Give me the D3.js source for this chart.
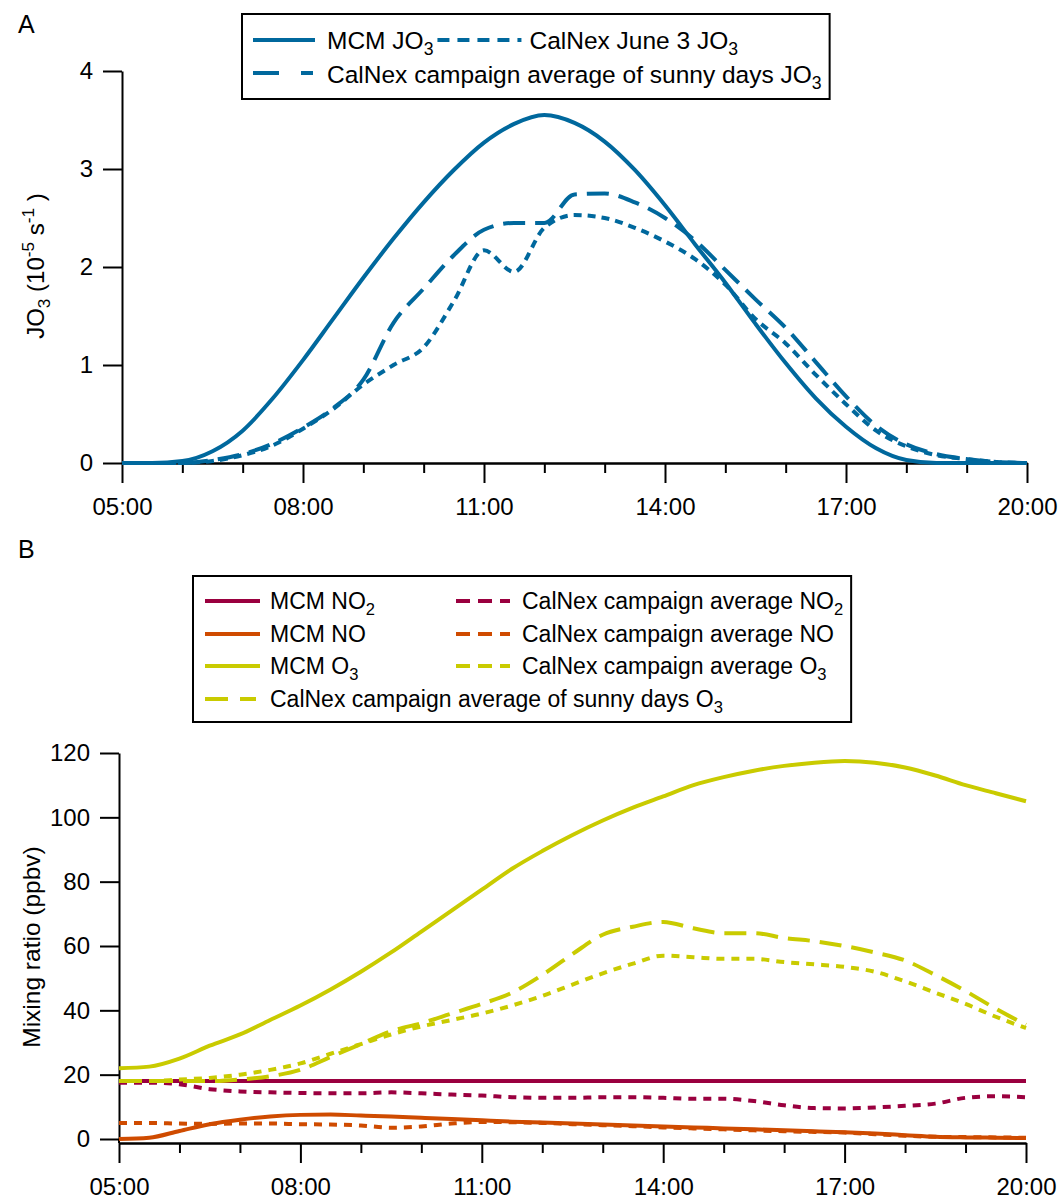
<!DOCTYPE html>
<html>
<head>
<meta charset="utf-8">
<title>JO3 and mixing ratios</title>
<style>
body { margin: 0; background: #fff; }
svg { font-family: "Liberation Sans", Arial, sans-serif; }
.axis path, .axis line { stroke: #000; stroke-width: 2px; }
.axis text { font-size: 24px; fill: #000; font-family: "Liberation Sans", Arial, sans-serif; }
.series { fill: none; stroke-width: 4px; stroke-linejoin: round; }
.legbox { fill: #fff; stroke: #000; stroke-width: 2px; }
</style>
</head>
<body>
<script src="https://d3js.org/d3.v7.min.js"></script>
<script>
var width = 1063, height = 1204;

// half-hourly time grid (hour of day)
var hours = [5, 5.5, 6, 6.5, 7, 7.5, 8, 8.5, 9, 9.5, 10, 10.5, 11, 11.5, 12, 12.5,
             13, 13.5, 14, 14.5, 15, 15.5, 16, 16.5, 17, 17.5, 18, 18.5, 19, 19.5, 20];
var majorHours = [5, 8, 11, 14, 17, 20];
var hourLabels = ["05:00", "08:00", "11:00", "14:00", "17:00", "20:00"];
var minorHours = [6, 7, 9, 10, 12, 13, 15, 16, 18, 19];

// panel A : JO3 (10^-5 s^-1)
var jo3Ticks = [0, 1, 2, 3, 4];
var mcmJO3   = [0, 0, 0.02, 0.12, 0.33, 0.66, 1.05, 1.47, 1.89, 2.29, 2.66, 2.99, 3.27, 3.46, 3.55, 3.47,
                3.28, 2.99, 2.63, 2.23, 1.84, 1.42, 1.02, 0.66, 0.37, 0.15, 0.03, 0, 0, 0, 0];
var june3JO3 = [0, 0, 0, 0.02, 0.08, 0.18, 0.35, 0.55, 0.8, 1.0, 1.18, 1.65, 2.17, 1.95, 2.4, 2.53,
                2.5, 2.4, 2.26, 2.08, 1.82, 1.47, 1.22, 0.9, 0.6, 0.33, 0.17, 0.08, 0.04, 0.01, 0];
var sunnyJO3 = [0, 0, 0, 0.03, 0.09, 0.2, 0.36, 0.56, 0.85, 1.43, 1.78, 2.12, 2.38, 2.45, 2.45, 2.74,
                2.75, 2.66, 2.5, 2.27, 1.97, 1.67, 1.38, 1.03, 0.68, 0.38, 0.19, 0.09, 0.04, 0.01, 0];

// panel B : mixing ratios (ppbv)
var ppbTicks = [0, 20, 40, 60, 80, 100, 120];
var mcmNO2 = [18, 18, 18, 18, 18, 18, 18, 18, 18, 18, 18, 18, 18, 18, 18, 18,
              18, 18, 18, 18, 18, 18, 18, 18, 18, 18, 18, 18, 18, 18, 18];
var mcmNO  = [0, 0.4, 2.5, 4.6, 6.0, 7.0, 7.5, 7.6, 7.3, 7.0, 6.6, 6.2, 5.8, 5.4, 5.1, 4.8,
              4.5, 4.2, 3.9, 3.6, 3.3, 3.0, 2.7, 2.4, 2.1, 1.7, 1.2, 0.7, 0.5, 0.4, 0.3];
var mcmO3  = [22, 22.5, 25, 29, 32.5, 37, 41.5, 46.5, 52, 58, 64.5, 71, 77.5, 84, 89.5, 94.5,
              99, 103, 106.5, 110, 112.5, 114.5, 116, 117, 117.5, 117, 115.5, 113, 110, 107.5, 105];
var calNO2 = [17.5, 17.5, 17, 15.5, 14.8, 14.5, 14.3, 14.2, 14.2, 14.5, 14.2, 13.8, 13.5, 13, 12.8, 12.8,
              13, 13, 12.8, 12.5, 12.5, 11.8, 10.5, 9.6, 9.5, 9.8, 10.3, 11, 12.8, 13.3, 13];
var calNO  = [5, 5, 4.8, 4.7, 4.8, 4.8, 4.6, 4.5, 4.2, 3.5, 3.9, 4.8, 5.3, 5.2, 5, 4.6,
              4.3, 4.0, 3.6, 3.3, 3.0, 2.7, 2.4, 2.2, 2.0, 1.5, 1.0, 0.7, 0.6, 0.5, 0.4];
var calO3  = [18, 18, 18.5, 19, 20, 21.5, 23.5, 26.5, 29.5, 32.5, 35, 37, 39, 41.5, 44.5, 48,
              51.5, 54.5, 57, 56.5, 56, 56, 55, 54.3, 53.5, 52, 49, 45.5, 42, 38, 34.5];
var sunnyO3 = [18, 18, 18, 18, 18.5, 19.5, 21.5, 25.5, 29.5, 33.5, 36, 39, 42, 45.5, 51, 57.5,
               63.5, 66, 67.5, 65.5, 64, 64, 62.5, 61.5, 60, 58, 55.5, 51, 46, 40.5, 35.5];

var blue = "#00689d", purple = "#9a003f", orange = "#cf4b00", yellow = "#c9cb00";

var svg = d3.select("body").append("svg")
    .attr("width", width)
    .attr("height", height);
svg.append("rect").attr("width", width).attr("height", height).attr("fill", "#fff");

// writes text made of parts: [string, "sub"|"sup"|undefined]
function richText(sel, parts, size) {
	var shift = 0;
	parts.forEach(function (p) {
		var t = sel.append("tspan").text(p[0]);
		var target = p[1] == "sub" ? size * 0.26 : (p[1] == "sup" ? -size * 0.42 : 0);
		t.attr("dy", target - shift);
		if (p[1]) t.attr("font-size", size * 0.72);
		shift = target;
	});
	return sel;
}

function drawAxes(g, x, y, xAxisY, ticks) {
	g.append("g").attr("class", "axis")
		.attr("transform", "translate(0," + xAxisY + ")")
		.call(d3.axisBottom(x).tickValues(minorHours).tickSize(10).tickSizeOuter(0).tickFormat(""));
	g.append("g").attr("class", "axis")
		.attr("transform", "translate(0," + xAxisY + ")")
		.call(d3.axisBottom(x).tickValues(majorHours).tickSize(20).tickSizeOuter(0).tickPadding(15)
			.tickFormat(function (d, i) { return hourLabels[i]; }));
	g.append("g").attr("class", "axis")
		.attr("transform", "translate(" + x.range()[0] + ",0)")
		.call(d3.axisLeft(y).tickValues(ticks).tickSize(19).tickSizeOuter(0).tickPadding(10)
			.tickFormat(d3.format("d")));
	g.append("line")
		.attr("x1", x.range()[0]).attr("x2", x.range()[0])
		.attr("y1", y.range()[0]).attr("y2", xAxisY)
		.attr("stroke", "#000").attr("stroke-width", 2);
	g.selectAll(".axis").attr("font-size", null).attr("font-family", null);
}

function drawSeries(g, x, y, values, color, dash) {
	var line = d3.line()
		.x(function (d, i) { return x(hours[i]); })
		.y(function (d) { return y(d); })
		.curve(d3.curveMonotoneX);
	g.append("path")
		.datum(values)
		.attr("class", "series")
		.attr("stroke", color)
		.attr("stroke-dasharray", dash)
		.attr("d", line);
}

// ---------------- panel A ----------------
var xA = d3.scaleLinear().domain([5, 20]).range([122, 1027]);
var yA = d3.scaleLinear().domain([0, 4]).range([463, 71]);
var gA = svg.append("g");
drawAxes(gA, xA, yA, 463, jo3Ticks);
drawSeries(gA, xA, yA, june3JO3, blue, "8,6");
drawSeries(gA, xA, yA, sunnyJO3, blue, "22,10");
drawSeries(gA, xA, yA, mcmJO3, blue, null);

richText(svg.append("text")
	.attr("transform", "translate(44,266) rotate(-90)")
	.attr("text-anchor", "middle")
	.attr("font-size", 24),
	[["JO"], ["3", "sub"], [" (10"], ["-5", "sup"], [" s"], ["-1", "sup"], [" )"]], 24);

svg.append("text").attr("x", 18).attr("y", 33).attr("font-size", 25).text("A");

// legend A
var legA = svg.append("g");
var boxA = legA.append("rect").attr("class", "legbox").attr("x", 242).attr("y", 14).attr("height", 85);
function sample(g, x1, x2, yy, color, dash) {
	g.append("line").attr("x1", x1).attr("x2", x2).attr("y1", yy).attr("y2", yy)
		.attr("stroke", color).attr("stroke-width", 4).attr("stroke-dasharray", dash);
}
function legText(g, x, yy, parts, size) {
	return richText(g.append("text").attr("x", x).attr("y", yy).attr("font-size", size), parts, size);
}
var fsA = 24.5;
var rowA1 = 49, rowA2 = 83;
sample(legA, 253, 315, rowA1 - 9, blue, null);
var tA1 = legText(legA, 327, rowA1, [["MCM JO"], ["3", "sub"]], fsA);
var endA1 = 327 + tA1.node().getComputedTextLength();
sample(legA, endA1 + 4, endA1 + 88, rowA1 - 9, blue, "12,8");
var tA2 = legText(legA, endA1 + 96, rowA1, [["CalNex June 3 JO"], ["3", "sub"]], fsA);
sample(legA, 253, 313, rowA2 - 10, blue, "26,22");
var tA3 = legText(legA, 327, rowA2, [["CalNex campaign average of sunny days JO"], ["3", "sub"]], fsA);
var rightA = Math.max(endA1 + 96 + tA2.node().getComputedTextLength(), 327 + tA3.node().getComputedTextLength());
boxA.attr("width", rightA + 8 - 242);

// ---------------- panel B ----------------
var xB = d3.scaleLinear().domain([5, 20]).range([119, 1026]);
var yB = d3.scaleLinear().domain([0, 120]).range([1139, 753]);
var gB = svg.append("g");
drawAxes(gB, xB, yB, 1143, ppbTicks);
drawSeries(gB, xB, yB, mcmNO2, purple, null);
drawSeries(gB, xB, yB, mcmNO, orange, null);
drawSeries(gB, xB, yB, mcmO3, yellow, null);
drawSeries(gB, xB, yB, calNO2, purple, "8,7");
drawSeries(gB, xB, yB, calNO, orange, "8,7");
drawSeries(gB, xB, yB, calO3, yellow, "8,7");
drawSeries(gB, xB, yB, sunnyO3, yellow, "22,10");

svg.append("text")
	.attr("transform", "translate(40,947) rotate(-90)")
	.attr("text-anchor", "middle")
	.attr("font-size", 24.5)
	.text("Mixing ratio (ppbv)");

svg.append("text").attr("x", 18).attr("y", 558).attr("font-size", 25).text("B");

// legend B
var legB = svg.append("g");
var boxB = legB.append("rect").attr("class", "legbox").attr("x", 193).attr("y", 576).attr("height", 146);
var fsB = 23;
var rowsB = [609, 642, 674, 707];
var leftItems = [
	{color: purple, parts: [["MCM NO"], ["2", "sub"]]},
	{color: orange, parts: [["MCM NO"]]},
	{color: yellow, parts: [["MCM O"], ["3", "sub"]]}
];
var rightItems = [
	{color: purple, parts: [["CalNex campaign average NO"], ["2", "sub"]]},
	{color: orange, parts: [["CalNex campaign average NO"]]},
	{color: yellow, parts: [["CalNex campaign average O"], ["3", "sub"]]}
];
var rightB = 0;
leftItems.forEach(function (d, i) {
	sample(legB, 205, 260, rowsB[i] - 8, d.color, null);
	legText(legB, 270, rowsB[i], d.parts, fsB);
});
rightItems.forEach(function (d, i) {
	sample(legB, 456, 510, rowsB[i] - 8, d.color, "14,8");
	var t = legText(legB, 522, rowsB[i], d.parts, fsB);
	rightB = Math.max(rightB, 522 + t.node().getComputedTextLength());
});
sample(legB, 205, 256, rowsB[3] - 8, yellow, "23,12");
var tB4 = legText(legB, 270, rowsB[3], [["CalNex campaign average of sunny days O"], ["3", "sub"]], fsB);
rightB = Math.max(rightB, 270 + tB4.node().getComputedTextLength());
boxB.attr("width", rightB + 8 - 193);
</script>
</body>
</html>
